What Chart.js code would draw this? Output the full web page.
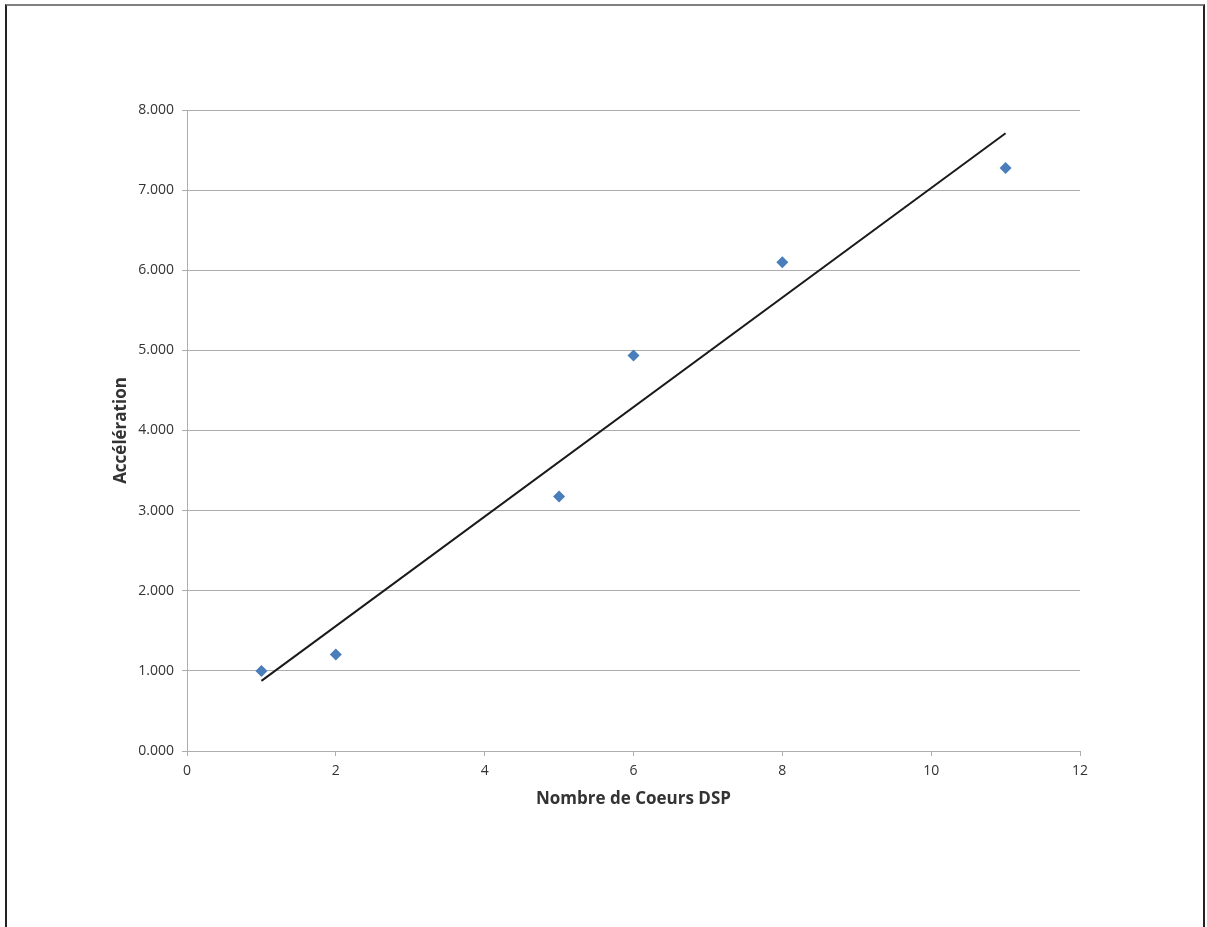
<!DOCTYPE html>
<html>
<head>
<meta charset="utf-8">
<script src="https://cdn.jsdelivr.net/npm/chart.js@4"></script>
<style>
  html, body { margin: 0; padding: 0; background: #fff; }
  #wrap { position: absolute; left: 0; top: 0; width: 1207px; height: 927px; }
  #frame { position: absolute; left: 5px; top: 4px; width: 1200px; height: 940px;
           border-left: 2px solid #222; border-right: 2px solid #222; border-top: 2px solid #808080; box-sizing: border-box; }
  canvas { position: absolute; left: 0; top: 0; }
</style>
</head>
<body>
<div id="wrap">
  <div id="frame"></div>
  <canvas id="c" width="1207" height="927"></canvas>
</div>
<script>
// Data
const cores = [1, 2, 5, 6, 8, 11];
const speedup = [1.000, 1.205, 3.175, 4.935, 6.100, 7.275];
// Trend line end points
const trendX = [1, 11];
const trendY = [0.875, 7.710];
const xTicks = [0, 2, 4, 6, 8, 10, 12];
const yTicks = [0, 1, 2, 3, 4, 5, 6, 7, 8];
const xTitle = 'Nombre de Coeurs DSP';
const yTitle = 'Accélération';

const pts = cores.map((x, i) => ({x: x, y: speedup[i]}));
const trend = trendX.map((x, i) => ({x: x, y: trendY[i]}));

const FONT = "'Open Sans', 'Noto Sans', sans-serif";
const GRID = '#adadad';

new Chart(document.getElementById('c'), {
  type: 'scatter',
  data: {
    datasets: [
      {
        label: 'Accélération',
        data: pts,
        pointStyle: 'rectRot',
        pointRadius: 6,
        pointHoverRadius: 6,
        backgroundColor: '#4a7ebb',
        borderColor: '#4a7ebb',
        borderWidth: 0,
        order: 1
      },
      {
        label: 'Tendance',
        type: 'line',
        data: trend,
        borderColor: '#1a1a1a',
        borderWidth: 2,
        pointRadius: 0,
        fill: false,
        tension: 0,
        order: 2
      }
    ]
  },
  options: {
    responsive: false,
    animation: false,
    events: [],
    layout: { padding: { top: 110, right: 127, left: 0, bottom: 0 } },
    plugins: { legend: { display: false }, tooltip: { enabled: false } },
    scales: {
      x: {
        type: 'linear',
        min: 0, max: 12,
        afterBuildTicks: s => { s.ticks = xTicks.map(v => ({value: v})); },
        afterFit: s => { s.height = 176; },
        grid: { display: true, drawOnChartArea: false, drawTicks: true, tickLength: 5, color: GRID, lineWidth: 1 },
        border: { display: true, color: GRID, width: 1 },
        ticks: { color: '#333', font: { family: FONT, size: 14 }, padding: 7, callback: v => String(v) },
        title: { display: true, text: xTitle, color: '#333', font: { family: FONT, size: 17, weight: 'bold' }, padding: { top: 0, bottom: 118 } }
      },
      y: {
        type: 'linear',
        min: 0, max: 8,
        afterBuildTicks: s => { s.ticks = yTicks.map(v => ({value: v})); },
        afterFit: s => { s.width = 187; },
        grid: { display: true, drawOnChartArea: true, drawTicks: true, tickLength: 5, color: GRID, lineWidth: 1 },
        border: { display: true, color: GRID, width: 1 },
        ticks: { color: '#333', font: { family: FONT, size: 14 }, padding: 8, callback: v => v.toFixed(3) },
        title: { display: true, text: yTitle, color: '#333', font: { family: FONT, size: 17, weight: 'bold' }, padding: { top: 111, bottom: 0 } }
      }
    }
  }
});
</script>
</body>
</html>
